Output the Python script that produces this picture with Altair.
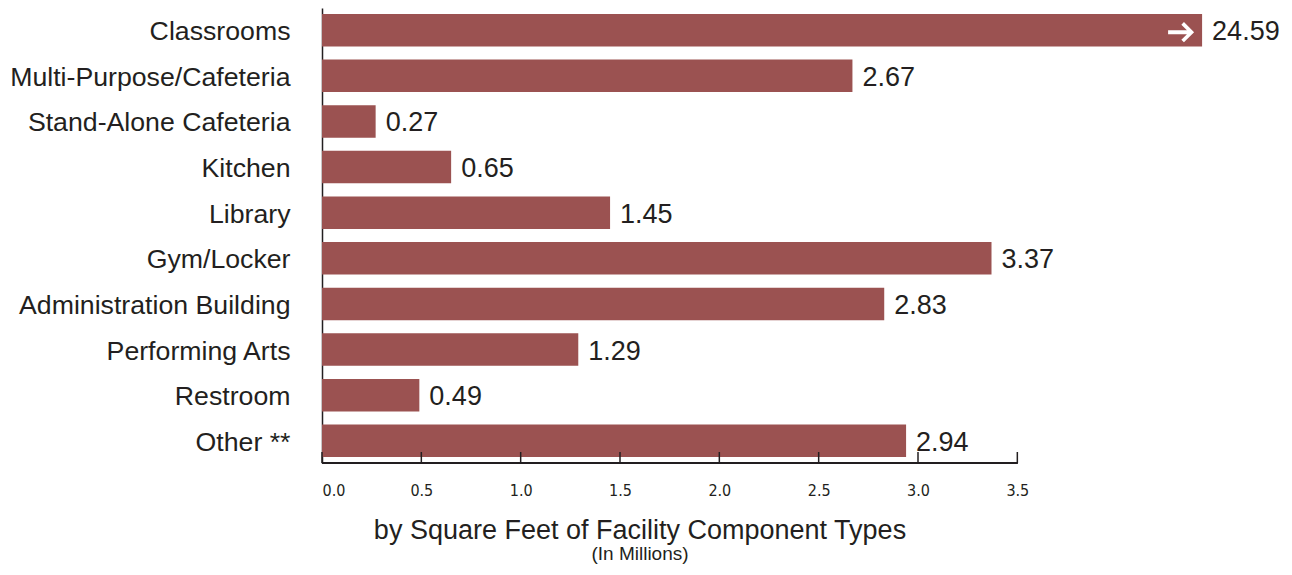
import altair as alt
import pandas as pd

categories = [
    "Classrooms",
    "Multi-Purpose/Cafeteria",
    "Stand-Alone Cafeteria",
    "Kitchen",
    "Library",
    "Gym/Locker",
    "Administration Building",
    "Performing Arts",
    "Restroom",
    "Other **",
]
values = [24.59, 2.67, 0.27, 0.65, 1.45, 3.37, 2.83, 1.29, 0.49, 2.94]
axis_break = 4.43  # bars longer than this are cut off and marked with an arrow
tick_values = [0.0, 0.5, 1.0, 1.5, 2.0, 2.5, 3.0, 3.5]
axis_end = 3.5

title_text = "by Square Feet of Facility Component Types"
subtitle_text = "(In Millions)"

BAR = "#9B5251"
INK = "#231F20"
FONT = "Liberation Sans"
ARROW_PATH = (
    "M -1 -0.15 L 0.45 -0.15 L 0.02 -0.58 L 0.22 -0.78 L 1 0 "
    "L 0.22 0.78 L 0.02 0.58 L 0.45 0.15 L -1 0.15 Z"
)

df = pd.DataFrame({
    "cat": categories,
    "value": values,
    "shown": [min(v, axis_break) for v in values],
    "label": [f"{v:.2f}" for v in values],
})
cut_df = df[df["value"] > axis_break].copy()
ticks_df = pd.DataFrame({"t": tick_values})

xscale = alt.Scale(domain=[0, 4.5], nice=False, zero=True)
yscale = alt.Scale(paddingInner=0.288, paddingOuter=0.131)

y_enc = alt.Y(
    "cat:N", sort=categories, scale=yscale, title=None,
    axis=alt.Axis(
        domain=True, domainColor=INK, domainWidth=1.5, ticks=False, grid=False,
        labelFont=FONT, labelFontSize=26.7, labelColor=INK, labelPadding=32,
        labelOffset=2, labelLimit=400,
    ),
)

bars = alt.Chart(df).mark_bar(color=BAR).encode(
    x=alt.X(
        "shown:Q", scale=xscale, title=None,
        axis=alt.Axis(
            values=tick_values, format=".1f", domain=False, ticks=False, grid=False,
            labelFont="DejaVu Sans Condensed, Liberation Sans", labelFontSize=16,
            labelColor=INK, labelPadding=19,
        ),
    ),
    y=y_enc,
)

labels = alt.Chart(df).mark_text(
    align="left", baseline="middle", dx=10, dy=2, font=FONT, fontSize=27, color=INK
).encode(
    x=alt.X("shown:Q", scale=xscale),
    y=alt.Y("cat:N", sort=categories, scale=yscale),
    text="label:N",
)

arrow = alt.Chart(cut_df).mark_point(
    shape=ARROW_PATH, size=676, filled=True, color="white", opacity=1,
    strokeWidth=0, xOffset=-21, yOffset=2,
).encode(
    x=alt.X("shown:Q", scale=xscale),
    y=alt.Y("cat:N", sort=categories, scale=yscale),
)

tick_marks = alt.Chart(ticks_df).mark_rule(color=INK, strokeWidth=1.5).encode(
    x=alt.X("t:Q", scale=xscale),
    y=alt.value(444),
    y2=alt.value(455),
)

x_line = alt.Chart(ticks_df).mark_rule(color=INK, strokeWidth=1.5).encode(
    x=alt.X(datum=0, scale=xscale),
    x2=alt.X2(datum=axis_end),
    y=alt.value(455),
)

chart = alt.layer(bars, labels, arrow, tick_marks, x_line).properties(
    width=894,
    height=455,
    padding={"left": 314, "top": 0, "right": 68, "bottom": 104},
    autosize=alt.AutoSizeParams(type="none"),
    title=alt.TitleParams(
        text=title_text,
        subtitle=subtitle_text,
        orient="bottom",
        anchor="middle",
        frame="group",
        dx=-129,
        offset=20,
        font=FONT,
        fontSize=27,
        fontWeight="normal",
        color=INK,
        subtitleFont=FONT,
        subtitleFontSize=19,
        subtitleColor=INK,
        subtitlePadding=0,
    ),
).configure(background="white").configure_view(stroke=None)

chart.save("out.html", embed_options={"renderer": "svg", "actions": False})
